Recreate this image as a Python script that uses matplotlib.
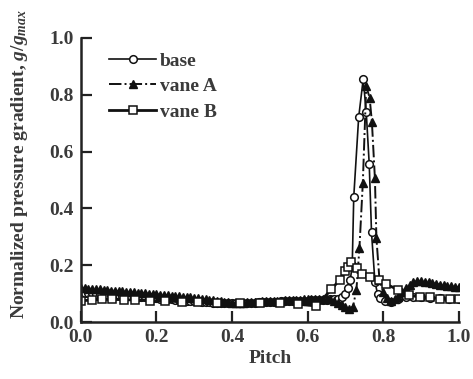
import numpy as np
import matplotlib
matplotlib.use("Agg")
import matplotlib.pyplot as plt

plt.rcParams['font.family'] = ['Liberation Serif', 'DejaVu Serif']
plt.rcParams['font.weight'] = 'bold'
plt.rcParams['axes.labelweight'] = 'bold'
plt.rcParams['mathtext.fontset'] = 'custom'
plt.rcParams['mathtext.rm'] = 'Liberation Serif:bold'
plt.rcParams['mathtext.it'] = 'Liberation Serif:italic:bold'
plt.rcParams['text.color'] = '#3a3a3a'
plt.rcParams['axes.labelcolor'] = '#3a3a3a'
plt.rcParams['xtick.labelcolor'] = '#3a3a3a'
plt.rcParams['ytick.labelcolor'] = '#3a3a3a'

# ===== Данные =====
base_x = [0.00, 0.01, 0.02, 0.03, 0.04, 0.05, 0.06, 0.07, 0.08, 0.09,
          0.10, 0.11, 0.12, 0.13, 0.14, 0.15, 0.16, 0.17, 0.18, 0.19,
          0.20, 0.21, 0.22, 0.23, 0.24, 0.25, 0.26, 0.27, 0.28, 0.29,
          0.30, 0.31, 0.32, 0.33, 0.34, 0.35, 0.36, 0.37, 0.38, 0.39,
          0.40, 0.41, 0.42, 0.43, 0.44, 0.45, 0.46, 0.47, 0.48, 0.49,
          0.50, 0.51, 0.52, 0.53, 0.54, 0.55, 0.56, 0.57, 0.58, 0.59,
          0.60, 0.61, 0.62, 0.63, 0.64, 0.65, 0.66, 0.67, 0.68, 0.69,
          0.700, 0.707, 0.713, 0.718, 0.722, 0.735, 0.747, 0.755, 0.763, 0.769,
          0.778, 0.785, 0.792, 0.805, 0.82, 0.84, 0.86, 0.88, 0.90, 0.925,
          0.95, 0.975, 1.00]
base_y = [0.105, 0.104, 0.103, 0.102, 0.100, 0.099, 0.098, 0.097, 0.096, 0.095,
          0.094, 0.093, 0.092, 0.091, 0.090, 0.089, 0.088, 0.087, 0.086, 0.085,
          0.084, 0.083, 0.082, 0.081, 0.080, 0.079, 0.078, 0.077, 0.076, 0.075,
          0.074, 0.073, 0.072, 0.071, 0.070, 0.069, 0.068, 0.067, 0.067, 0.066,
          0.066, 0.067, 0.067, 0.068, 0.068, 0.069, 0.069, 0.070, 0.070, 0.071,
          0.071, 0.072, 0.072, 0.073, 0.073, 0.074, 0.074, 0.075, 0.075, 0.076,
          0.076, 0.077, 0.077, 0.078, 0.078, 0.079, 0.080, 0.080, 0.082, 0.088,
          0.100, 0.120, 0.150, 0.200, 0.440, 0.720, 0.855, 0.740, 0.555, 0.316,
          0.142, 0.100, 0.085, 0.075, 0.072, 0.080, 0.088, 0.090, 0.088, 0.086,
          0.084, 0.082, 0.080]

vane_a_x = [0.00, 0.01, 0.02, 0.03, 0.04, 0.05, 0.06, 0.07, 0.08, 0.09,
            0.10, 0.11, 0.12, 0.13, 0.14, 0.15, 0.16, 0.17, 0.18, 0.19,
            0.20, 0.21, 0.22, 0.23, 0.24, 0.25, 0.26, 0.27, 0.28, 0.29,
            0.30, 0.31, 0.32, 0.33, 0.34, 0.35, 0.36, 0.37, 0.38, 0.39,
            0.40, 0.41, 0.42, 0.43, 0.44, 0.45, 0.46, 0.47, 0.48, 0.49,
            0.50, 0.51, 0.52, 0.53, 0.54, 0.55, 0.56, 0.57, 0.58, 0.59,
            0.60, 0.61, 0.62, 0.63, 0.64, 0.65, 0.66, 0.67, 0.68, 0.69,
            0.70, 0.71, 0.72, 0.729, 0.737, 0.746, 0.755, 0.764, 0.770, 0.778,
            0.782, 0.79, 0.80, 0.81, 0.82, 0.83, 0.84, 0.85, 0.86, 0.87,
            0.88, 0.89, 0.90, 0.91, 0.92, 0.93, 0.94, 0.95, 0.96, 0.97,
            0.98, 0.99, 1.00]
vane_a_y = [0.120, 0.119, 0.118, 0.117, 0.116, 0.115, 0.114, 0.112, 0.111, 0.110,
            0.109, 0.108, 0.107, 0.106, 0.105, 0.104, 0.103, 0.101, 0.100, 0.099,
            0.098, 0.097, 0.096, 0.094, 0.093, 0.092, 0.091, 0.089, 0.088, 0.087,
            0.085, 0.084, 0.082, 0.081, 0.079, 0.078, 0.076, 0.074, 0.072, 0.070,
            0.068, 0.068, 0.069, 0.069, 0.070, 0.071, 0.071, 0.072, 0.073, 0.073,
            0.074, 0.075, 0.075, 0.076, 0.077, 0.077, 0.078, 0.079, 0.079, 0.080,
            0.081, 0.081, 0.082, 0.082, 0.083, 0.082, 0.080, 0.075, 0.068, 0.060,
            0.052, 0.046, 0.055, 0.113, 0.260, 0.490, 0.830, 0.790, 0.705, 0.506,
            0.295, 0.150, 0.105, 0.085, 0.075, 0.080, 0.090, 0.105, 0.120, 0.132,
            0.140, 0.145, 0.145, 0.142, 0.140, 0.137, 0.135, 0.132, 0.130, 0.128,
            0.126, 0.124, 0.122]

vane_b_x = [0.00, 0.03, 0.055, 0.082, 0.113, 0.144, 0.183, 0.223, 0.267, 0.311,
            0.359, 0.421, 0.474, 0.527, 0.575, 0.622, 0.663, 0.685, 0.700, 0.707,
            0.716, 0.730, 0.743, 0.765, 0.790, 0.808, 0.840, 0.868, 0.897, 0.923,
            0.950, 0.976, 1.00]
vane_b_y = [0.075, 0.078, 0.080, 0.080, 0.079, 0.078, 0.076, 0.074, 0.072, 0.070,
            0.067, 0.066, 0.066, 0.066, 0.063, 0.057, 0.115, 0.150, 0.180, 0.193,
            0.212, 0.190, 0.171, 0.160, 0.148, 0.134, 0.113, 0.095, 0.088, 0.087,
            0.083, 0.081, 0.080]

ticks = [0.0, 0.2, 0.4, 0.6, 0.8, 1.0]

# ===== График =====
fig = plt.figure(figsize=(4.73, 3.79), dpi=100)
ax = fig.add_axes([0.171, 0.150, 0.799, 0.750])

ink = '#111111'
ax.plot(base_x, base_y, '-', color=ink, lw=1.2, marker='o', ms=5.5,
        mfc='white', mec=ink, mew=1.1, label='base')
ax.plot(vane_a_x, vane_a_y, '-.', color=ink, lw=1.4, marker='^', ms=6,
        mfc=ink, mec=ink, label='vane A')
ax.plot(vane_b_x, vane_b_y, '-', color=ink, lw=2.0, marker='s', ms=5.5,
        mfc='white', mec=ink, mew=1.1, label='vane B')

ax.set_xlim(0, 1.0)
ax.set_ylim(0, 1.0)
ax.set_xticks(ticks)
ax.set_yticks(ticks)
ax.set_xticklabels(["%.1f" % t for t in ticks])
ax.set_yticklabels(["%.1f" % t for t in ticks])

for s in ['top', 'right']:
    ax.spines[s].set_visible(False)
for s in ['left', 'bottom']:
    ax.spines[s].set_linewidth(1.8)
    ax.spines[s].set_color('#222222')
ax.tick_params(direction='in', length=8, width=1.6, color='#222222',
               labelsize=14, pad=5)

ax.set_xlabel("Pitch", fontsize=14, fontweight='bold', labelpad=3)
ax.set_ylabel("Normalized pressure gradient, $g/g_{max}$", fontsize=14,
              fontweight='bold')
ax.yaxis.set_label_coords(-0.135, 0.555)

ax.legend(loc='upper left', frameon=False, fontsize=14, handlelength=2.4,
          handletextpad=0.2, labelspacing=0.4, borderaxespad=0.0,
          borderpad=0.0, bbox_to_anchor=(0.075, 0.95))

fig.savefig("out.png", dpi=100)
